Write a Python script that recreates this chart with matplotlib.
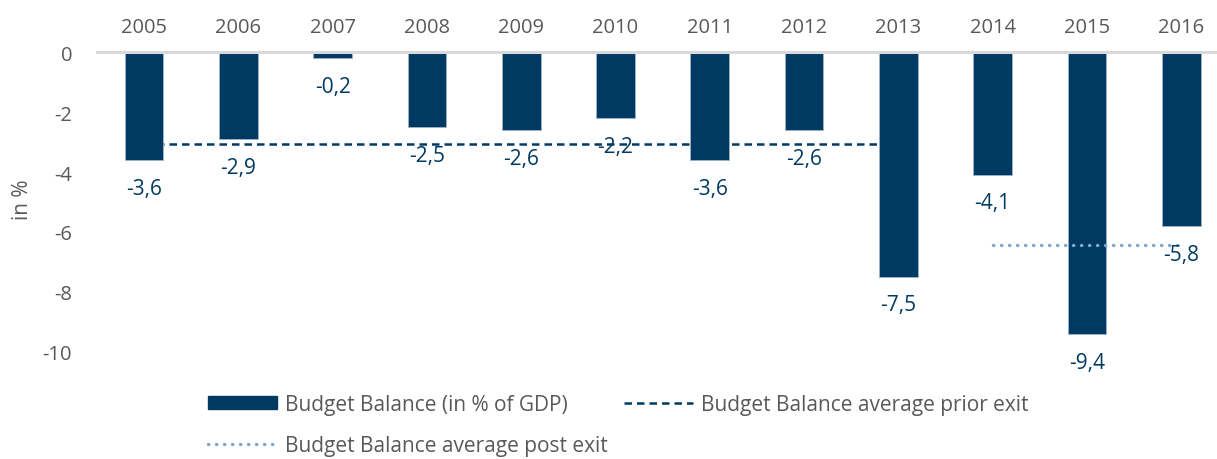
import matplotlib
matplotlib.use("Agg")
import matplotlib.pyplot as plt
from matplotlib.lines import Line2D
from matplotlib.patches import Patch

plt.rcParams['font.family'] = ['Open Sans', 'DejaVu Sans']

# data
years = ['2005', '2006', '2007', '2008', '2009', '2010', '2011', '2012',
         '2013', '2014', '2015', '2016']
balance = [-3.6, -2.9, -0.2, -2.5, -2.6, -2.2, -3.6, -2.6, -7.5, -4.1, -9.4, -5.8]
avg_prior = -3.07      # 2005 .. 2013
avg_post = -6.43       # 2014 .. 2016
yticks = [0, -2, -4, -6, -8, -10]

dark = '#003a63'
light = '#7ba7c9'
grey = '#595959'

fig = plt.figure(figsize=(12.17, 4.6), dpi=100)
ax = fig.add_axes([97 / 1217, 1 - 380 / 460, 1 - 97 / 1217, (380 - 53) / 460])

x = list(range(len(years)))

# average lines
ax.plot([0, 8], [avg_prior, avg_prior], color=dark, lw=1.8, ls=(0, (3, 2)), zorder=1)
ax.bar(x, balance, width=0.41, color=dark, edgecolor='#9fb4c8', linewidth=0.6, zorder=2)
ax.plot([9, 11], [avg_post, avg_post], color=light, lw=2.4, ls=(0, (0.1, 2.3)),
        dash_capstyle='round', zorder=3)

ax.axhline(0, color='#d9d9d9', lw=2.2, zorder=4, clip_on=False)

for xi, v in zip(x, balance):
    ax.annotate(f"{v:.1f}".replace('.', ','), (xi, v), xytext=(0, -28),
                textcoords='offset pixels', ha='center', va='center',
                color=dark, fontsize=15, zorder=5)

ax.set_xlim(-0.5, 11.38)
ax.set_ylim(-10.9, 0)
ax.xaxis.tick_top()
ax.set_xticks(x)
ax.set_xticklabels(years)
ax.set_yticks(yticks)
ax.set_yticklabels([str(t) for t in yticks])
ax.tick_params(axis='both', length=0, labelsize=14.5, labelcolor=grey)
ax.tick_params(axis='y', pad=18)
ax.tick_params(axis='x', pad=11)
for s in ax.spines.values():
    s.set_visible(False)

fig.text(22 / 1217, 1 - 200 / 460, 'in %', rotation=90, ha='center', va='center',
         fontsize=15, color=grey)

handles = [Patch(facecolor=dark, edgecolor=dark),
           Line2D([], [], color=light, lw=2.4, ls=(0, (0.1, 2.3)), dash_capstyle='round'),
           Line2D([], [], color=dark, lw=1.8, ls=(0, (3, 2)))]
labels = ['Budget Balance (in % of GDP)', 'Budget Balance average post exit',
          'Budget Balance average prior exit']
leg = fig.legend(handles, labels, ncol=2, loc='upper left',
                 bbox_to_anchor=(189 / 1217, 1 - 376 / 460), frameon=False,
                 fontsize=15, labelcolor=grey, handlelength=3.3, handleheight=0.55,
                 handletextpad=0.4, columnspacing=0.8, labelspacing=0.95)

fig.savefig('out.png', dpi=100)
